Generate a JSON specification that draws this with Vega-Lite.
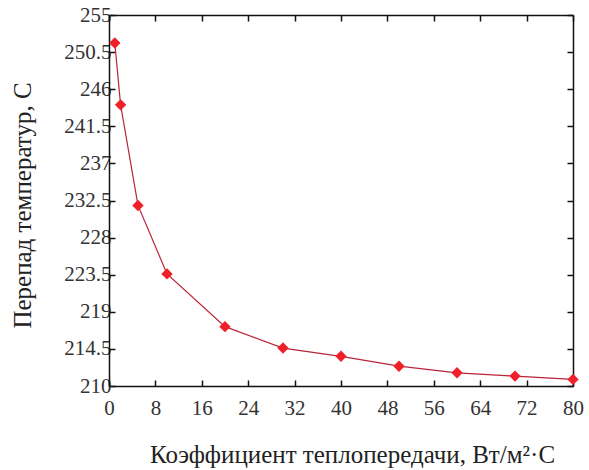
{
  "$schema": "https://vega.github.io/schema/vega-lite/v6.json",
  "autosize": "none",
  "width": 464,
  "height": 371,
  "padding": {"left": 109, "top": 15, "right": 16, "bottom": 84},
  "background": "white",
  "config": {
    "view": {"stroke": null},
    "axis": {"labelFont": "Liberation Serif", "titleFont": "Liberation Serif", "grid": false}
  },
  "data": {"values": [
    {"k": 1, "dt": 251.6},
    {"k": 2, "dt": 244.1},
    {"k": 5, "dt": 231.9},
    {"k": 10, "dt": 223.6},
    {"k": 20, "dt": 217.2},
    {"k": 30, "dt": 214.6},
    {"k": 40, "dt": 213.6},
    {"k": 50, "dt": 212.4},
    {"k": 60, "dt": 211.6},
    {"k": 70, "dt": 211.2},
    {"k": 80, "dt": 210.8}
  ]},
  "layer": [
    {
      "mark": {"type": "line", "color": "#b8243a", "strokeWidth": 1.2, "interpolate": "linear"},
      "encoding": {
        "x": {"field": "k", "type": "quantitative", "scale": {"domain": [0, 80], "nice": false, "zero": false},
          "axis": {"orient": "bottom", "values": [0, 8, 16, 24, 32, 40, 48, 56, 64, 72, 80], "labelExpr": "'' + datum.value",
            "title": "Коэффициент теплопередачи, Вт/м²·С", "titleFontSize": 25, "titleFontWeight": "normal", "titleColor": "#222",
            "titleX": 243, "titleY": 76, "titleBaseline": "alphabetic", "titleAlign": "center", "titleFont": "Liberation Serif",
            "labelFont": "Liberation Serif", "labelFontSize": 21, "labelColor": "#333", "labelPadding": 17, "labelDx": 4, "tickSize": -6, "tickColor": "#111", "tickWidth": 1.5, "domainColor": "#111", "domainWidth": 1.5, "labelFlush": false, "labelOverlap": false}},
        "y": {"field": "dt", "type": "quantitative", "scale": {"domain": [210, 255], "nice": false, "zero": false},
          "axis": {"orient": "left", "values": [210, 214.5, 219, 223.5, 228, 232.5, 237, 241.5, 246, 250.5, 255], "labelExpr": "'' + datum.value",
            "title": "Перепад температур, С", "titleFontSize": 25, "titleFontWeight": "normal", "titleColor": "#222", "titleFont": "Liberation Serif",
            "titleX": -79, "titleY": 190, "titleBaseline": "alphabetic", "titleAlign": "center", "titleAngle": -90,
            "labelFont": "Liberation Serif", "labelFontSize": 21, "labelColor": "#333", "labelPadding": 4, "tickSize": -6, "tickColor": "#111", "tickWidth": 1.5, "domainColor": "#111", "domainWidth": 1.5, "labelOverlap": false}}
      }
    },
    {
      "mark": {"type": "point", "shape": "diamond", "filled": true, "color": "#f0202a", "size": 130, "opacity": 1},
      "encoding": {
        "x": {"field": "k", "type": "quantitative",
          "axis": {"orient": "top", "values": [0, 8, 16, 24, 32, 40, 48, 56, 64, 72, 80], "labels": false, "title": null, "tickSize": -6, "tickColor": "#111", "tickWidth": 1.5, "domainColor": "#111", "domainWidth": 1.5}},
        "y": {"field": "dt", "type": "quantitative",
          "axis": {"orient": "right", "values": [210, 214.5, 219, 223.5, 228, 232.5, 237, 241.5, 246, 250.5, 255], "labels": false, "title": null, "tickSize": -6, "tickColor": "#111", "tickWidth": 1.5, "domainColor": "#111", "domainWidth": 1.5}}
      }
    }
  ],
  "resolve": {"axis": {"x": "independent", "y": "independent"}}
}
